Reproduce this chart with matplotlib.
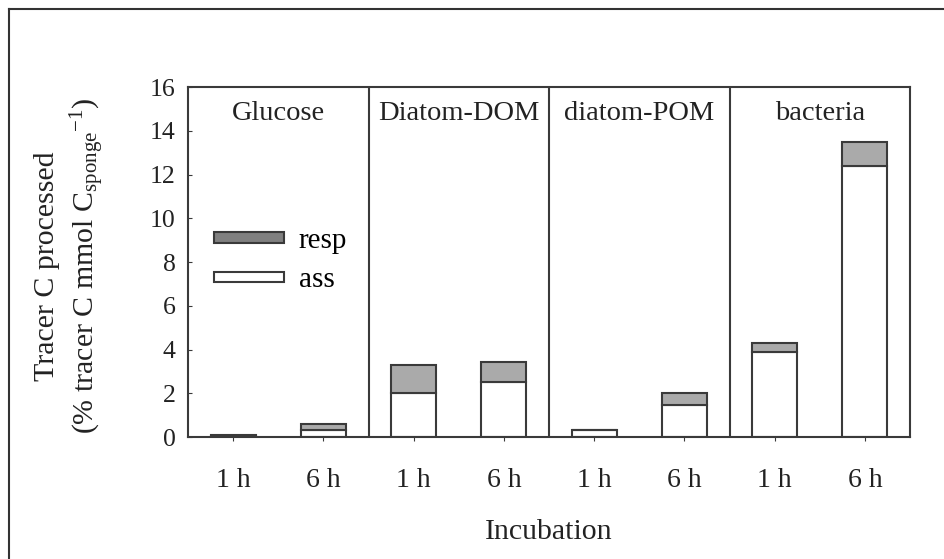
import matplotlib.pyplot as plt
import numpy as np
from matplotlib.lines import Line2D
from matplotlib.patches import Patch

plt.rcParams['font.family'] = ['Liberation Serif', 'DejaVu Serif']
plt.rcParams['mathtext.fontset'] = 'custom'
plt.rcParams['mathtext.rm'] = 'Liberation Serif'
plt.rcParams['mathtext.it'] = 'Liberation Serif:italic'

# tracer sources, two incubation times each
sources = ['Glucose', 'Diatom-DOM', 'diatom-POM', 'bacteria']
times = ['1 h', '6 h']
ass = [0.05, 0.30, 2.0, 2.5, 0.30, 1.45, 3.9, 12.4]
resp = [0.05, 0.28, 1.3, 0.95, 0.02, 0.55, 0.4, 1.1]

txt = '#222222'
edge = '#3a3a3a'

fig = plt.figure(figsize=(9.44, 5.59), dpi=100)
ax = fig.add_axes([0.1992, 0.2182, 0.7648, 0.6261])

x = np.arange(len(ass)) + 0.5
ax.bar(x, ass, width=0.5, color='white', edgecolor=edge, linewidth=1.5)
ax.bar(x, resp, width=0.5, bottom=ass, color='#aaaaaa', edgecolor=edge,
       linewidth=1.5)

ax.set_xlim(0, 8)
ax.set_ylim(0, 16)
ax.set_yticks(range(0, 17, 2))
ax.set_xticks(x)
ax.set_xticklabels(times * len(sources))
ax.tick_params(axis='y', direction='in', length=3, pad=9, labelsize=18.5,
               colors=edge, labelcolor=txt)
ax.tick_params(axis='x', direction='out', length=3, pad=19, labelsize=20,
               colors=edge, labelcolor=txt)
for s in ax.spines.values():
    s.set_color(edge)
    s.set_linewidth(1.5)

# panel separators and titles
for i, name in enumerate(sources):
    if i > 0:
        ax.axvline(2 * i, color=edge, linewidth=1.5)
    ax.text(2 * i + 1, 0.906, name, transform=ax.get_xaxis_transform(),
            ha='center', va='baseline', fontsize=20.5, color=txt)

ax.set_xlabel('Incubation', fontsize=21.5, color=txt, labelpad=19)

fig.text(47 / 944, 1 - 266 / 559, 'Tracer C processed', rotation=90,
         ha='center', va='center', fontsize=21.5, color=txt)
fig.text(88 / 944, 1 - 266 / 559,
         r'(% tracer C mmol C$_{\mathregular{sponge}}$$^{\mathregular{-1}}$)',
         rotation=90, ha='center', va='center', fontsize=21.5, color=txt)

handles = [Patch(facecolor='#808080', edgecolor=edge, linewidth=1.5),
           Patch(facecolor='white', edgecolor=edge, linewidth=1.5)]
ax.legend(handles, ['resp', 'ass'], loc='upper left',
          bbox_to_anchor=(0.02, 0.63), frameon=False, fontsize=21,
          handlelength=2.4, handleheight=0.17, labelspacing=0.45,
          handletextpad=0.5, borderaxespad=0)

# outer frame along the left and top edges
fig.add_artist(Line2D([9 / 944, 9 / 944], [0, 1 - 9 / 559],
                      transform=fig.transFigure, color='#333333', lw=1.5))
fig.add_artist(Line2D([9 / 944, 1], [1 - 9 / 559, 1 - 9 / 559],
                      transform=fig.transFigure, color='#333333', lw=1.5))

fig.savefig('out.png', dpi=100)
